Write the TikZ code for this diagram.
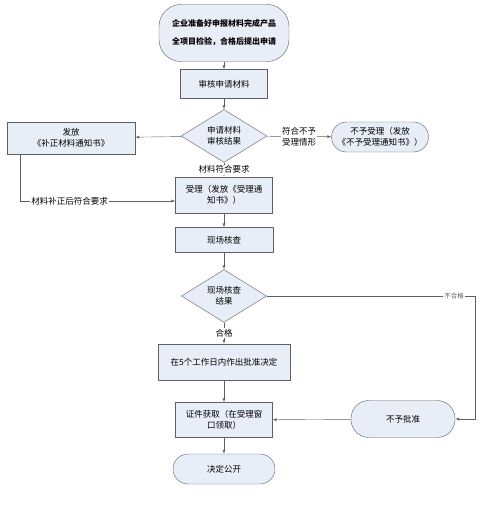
\documentclass[tikz,border=0pt]{standalone}
\usepackage{fontspec}
\newfontfamily\cjk{Noto Sans CJK SC}
\usetikzlibrary{arrows,shapes.geometric}
\definecolor{boxblue}{RGB}{232,238,247}
\definecolor{linegray}{RGB}{95,95,95}
\begin{document}
\begin{tikzpicture}[x=1pt,y=-1pt,
  every node/.style = {font=\cjk\fontsize{8.5}{11}\selectfont, align=center, inner sep=0pt},
  box/.style = {draw=linegray, fill=boxblue, rectangle},
  term/.style = {draw=linegray, fill=boxblue, rectangle},
  decision/.style = {draw=linegray, fill=boxblue, diamond},
  line/.style = {draw=linegray, -latex},
  lbl/.style = {fill=white, inner sep=1pt}]
  \useasboundingbox (0,0) rectangle (485,508);
  \node[term, minimum width=130, minimum height=57, rounded corners=22,
    font=\cjk\bfseries\fontsize{8}{18}\selectfont] (start) at (224,33)
    {企业准备好申报材料完成产品\\全项目检验，合格后提出申请};
  \node[box, minimum width=87, minimum height=29] (review) at (224,84) {审核申请材料};
  \node[decision, minimum width=86, minimum height=48] (check) at (224,136) {申请材料\\审核结果};
  \node[box, minimum width=128, minimum height=32] (fix) at (71,138) {发放\\《补正材料通知书》};
  \node[term, minimum width=97, minimum height=30, rounded corners=15] (reject) at (380,137)
    {不予受理（发放\\《不予受理通知书》）};
  \node[box, minimum width=97, minimum height=36] (accept) at (224,195) {受理（发放《受理通\\知书》）};
  \node[box, minimum width=98, minimum height=25] (site) at (224,240) {现场核查};
  \node[decision, minimum width=85, minimum height=43] (sitecheck) at (224,296) {现场核查\\结果};
  \node[box, minimum width=132, minimum height=36] (approve) at (224,362) {在5个工作日内作出批准决定};
  \node[box, minimum width=97, minimum height=35] (cert) at (224,420) {证件获取（在受理窗\\口领取）};
  \node[term, minimum width=102, minimum height=30, rounded corners=15] (publish) at (224,469) {决定公开};
  \node[term, minimum width=104, minimum height=37, rounded corners=18] (deny) at (403,419) {不予批准};
  \coordinate (fixturn) at (20,201);
  \coordinate (failturn) at (475,296);
  % main column
  \draw[line] (start) -- (review);
  \draw[line] (review) -- (check);
  \draw[line] (check) -- (fix);
  \draw[line] (check) -- node[lbl]{符合不予\\受理情形} (reject);
  \draw[line] (check) -- node[lbl]{材料符合要求} (accept);
  \draw[line] (fix.south -| fixturn) -- (fixturn)
    -- node[lbl, pos=0.32]{材料补正后符合要求} (fixturn -| accept.west);
  \draw[line] (accept) -- (site);
  \draw[line] (site) -- (sitecheck);
  \draw[line] (sitecheck) -- node[lbl]{合格} (approve);
  \draw[line] (approve) -- (cert);
  \draw[line] (cert) -- (publish);
  % rejected branch
  \draw[line] (sitecheck.east) -- node[lbl, pos=0.9, text=linegray,
    font=\cjk\fontsize{6.5}{8}\selectfont]{不合格} (failturn) |- (deny.east);
  \draw[line] (deny) -- (cert);
\end{tikzpicture}
\end{document}
